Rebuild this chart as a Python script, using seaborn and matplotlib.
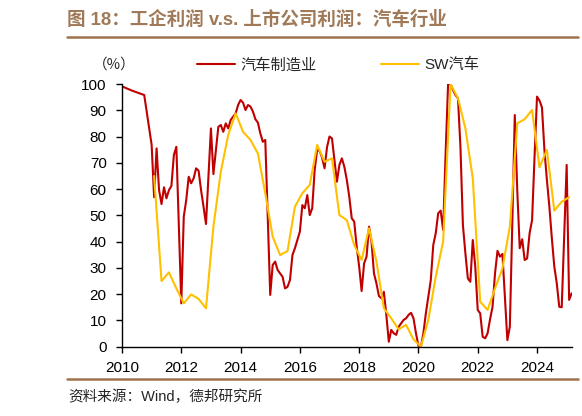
import numpy as np
import pandas as pd
import seaborn as sns
import matplotlib.pyplot as plt
from matplotlib.lines import Line2D

# 汽车制造业: month offset from 2010-01, value (%)
red_month = [0, 4, 9, 12, 13, 14, 15, 16, 17, 18, 19, 20, 21, 22, 24, 25, 26, 27, 28, 29,
             30, 31, 32, 33, 34, 36, 37, 38, 39, 40, 41, 42, 43, 44, 45, 46, 47, 48, 49, 50,
             51, 52, 53, 54, 55, 56, 57, 58, 60, 61, 62, 63, 64, 65, 66, 67, 68, 69, 70, 71,
             72, 73, 74, 75, 76, 77, 78, 79, 80, 81, 82, 83, 84, 85, 86, 87, 88, 89, 90, 91,
             92, 93, 94, 95, 96, 97, 98, 99, 100, 101, 102, 103, 104, 105, 106, 107, 108, 109,
             110, 111, 112, 113, 114, 115, 116, 117, 118, 119, 120, 121, 122, 123, 125, 126,
             127, 128, 129, 130, 131, 132, 133, 134, 135, 136, 137, 138, 139, 140, 141, 142,
             143, 144, 145, 146, 147, 148, 149, 150, 151, 152, 153, 154, 155, 156, 157, 158,
             159, 160, 161, 162, 163, 164, 165, 166, 167, 168, 169, 170, 171, 172, 173, 174,
             175, 176, 177, 178, 180, 181, 182]
red_val = [99.1, 97.5, 95.8, 76.8, 56.9, 75.5, 59.6, 54.3, 60.7, 56.5, 59.6, 61.2, 73.0, 76.1,
           16.5, 49.5, 55.8, 64.7, 62.2, 64.1, 67.9, 67.0, 59.6, 53.3, 46.7, 83.1, 65.7, 74.9,
           83.7, 84.4, 81.8, 85.0, 83.1, 86.3, 87.6, 88.8, 92.0, 93.9, 92.9, 90.1, 92.0, 91.4,
           89.5, 86.6, 85.3, 81.2, 78.0, 78.7, 19.7, 31.1, 32.4, 29.2, 27.9, 26.6, 22.2, 22.8,
           25.4, 34.9, 37.5, 40.6, 43.8, 53.9, 52.7, 57.7, 50.1, 52.7, 67.3, 74.9, 74.5, 72.0,
           67.9, 76.0, 80.0, 79.3, 71.1, 62.8, 69.2, 71.7, 68.5, 63.5, 57.1, 48.9, 47.6, 38.1,
           30.5, 21.2, 31.7, 34.3, 45.7, 40.0, 27.9, 24.1, 19.3, 18.4, 20.9, 12.1, 1.9, 6.4,
           5.1, 4.5, 7.6, 8.9, 10.2, 10.8, 12.1, 12.9, 10.8, 5.1, 0.3, 0.0, 5.1, 12.7, 25.4,
           38.7, 43.2, 50.8, 51.8, 44.4, 73.6, 100.0, 100.0, 97.7, 95.8, 94.6, 76.1, 46.3,
           35.6, 26.0, 24.7, 40.6, 30.5, 14.0, 12.7, 3.8, 3.2, 5.1, 10.5, 15.2, 27.9, 36.5,
           34.3, 35.3, 19.0, 2.5, 7.6, 47.0, 88.2, 59.6, 37.5, 40.9, 33.0, 33.6, 43.2, 48.2,
           72.3, 95.2, 93.7, 91.1, 74.9, 63.5, 53.3, 41.3, 30.5, 24.1, 15.2, 15.0, 69.2, 17.8,
           20.3]

# SW汽车: quarterly, first point 2011-02
sw_val = [65.0, 25.0, 28.3, 22.2, 16.5, 19.9, 18.2, 14.6, 45.7, 66.6, 80.6, 88.8, 81.8, 78.7,
          73.6, 58.4, 41.9, 34.9, 36.4, 53.3, 58.4, 61.6, 76.8, 70.4, 71.7, 50.1, 48.2, 38.7,
          33.0, 45.1, 32.4, 14.6, 10.8, 6.6, 8.3, 2.8, 0.0, 10.2, 26.6, 40.0, 100.0, 94.6,
          83.1, 64.1, 17.1, 14.0, 22.2, 29.8, 45.7, 85.0, 86.6, 90.1, 68.3, 74.9, 51.8, 55.2,
          56.9]
sw_month = list(range(13, 13 + 3 * len(sw_val), 3))

year_ticks = list(range(2010, 2025, 2))

df_red = pd.DataFrame({'year': 2010 + np.array(red_month) / 12, 'val': red_val})
df_sw = pd.DataFrame({'year': 2010 + np.array(sw_month) / 12, 'val': sw_val})

sns.set_theme(style='ticks')
plt.rcParams['font.family'] = ['Liberation Sans', 'Noto Sans CJK SC']
plt.rcParams['axes.unicode_minus'] = False

fig = plt.figure(figsize=(5.82, 4.16), dpi=100)
ax = fig.add_axes([122 / 582, 1 - 346.7 / 416, 449.7 / 582, 262.7 / 416])

sns.lineplot(data=df_red, x='year', y='val', color='#C00000', lw=1.5, label='汽车制造业', ax=ax)
sns.lineplot(data=df_sw, x='year', y='val', color='#FFC000', lw=1.5, label='SW汽车', ax=ax)

ax.set_xlim(2010, 2025.17)
ax.set_ylim(0, 100)
ax.set_xticks(year_ticks)
ax.set_yticks(range(0, 101, 10))
ax.set_xlabel('')
ax.set_ylabel('')
sns.despine(ax=ax)
for s in ['left', 'bottom']:
    ax.spines[s].set_color('black')
    ax.spines[s].set_linewidth(1.0)
ax.tick_params(axis='both', colors='black', length=4, width=1, labelsize=11)
ax.tick_params(axis='y', pad=7)
ax.tick_params(axis='x', pad=6)
ax.margins(0)

ax.legend(loc='center left', bbox_to_anchor=(197 / 582, 1 - 65 / 416),
          bbox_transform=fig.transFigure, ncol=2, frameon=False, fontsize=11,
          handlelength=2.5, handletextpad=0.35, columnspacing=4.2,
          borderpad=0, borderaxespad=0)

fig.text(114 / 582, 1 - 65 / 416, '（%）', family=['Noto Sans CJK SC'], fontsize=10.5,
         ha='center', va='center')

brown = '#A0724C'
fig.text(67 / 582, 1 - 20 / 416, '图 18：工企利润 v.s. 上市公司利润：汽车行业',
         fontsize=13.3, fontweight='bold', color='#A07A58', ha='left', va='center')
fig.add_artist(Line2D([67 / 582, 578 / 582], [1 - 37 / 416, 1 - 37 / 416],
                      transform=fig.transFigure, color=brown, lw=1.8))
fig.add_artist(Line2D([67 / 582, 578 / 582], [1 - 379 / 416, 1 - 379 / 416],
                      transform=fig.transFigure, color=brown, lw=1.8))
fig.text(68 / 582, 1 - 397 / 416, '资料来源：Wind，德邦研究所', fontsize=10.5,
         ha='left', va='center')

fig.savefig('out.png', dpi=100)
